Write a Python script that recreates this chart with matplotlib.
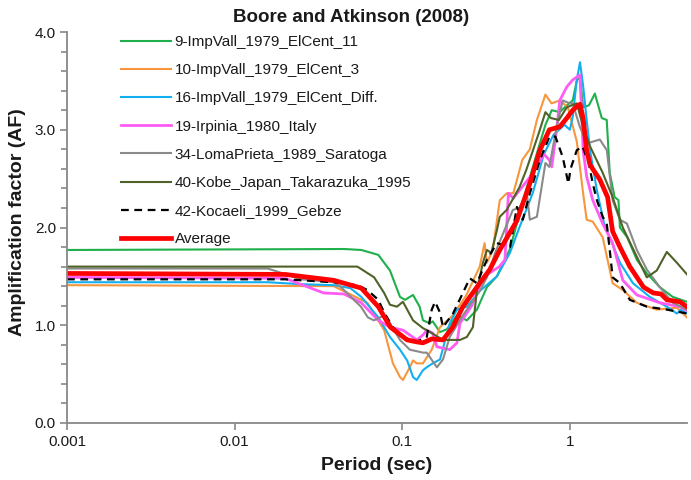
import matplotlib
matplotlib.use("Agg")
import matplotlib.pyplot as plt
from matplotlib.ticker import FixedLocator, MultipleLocator, FuncFormatter

plt.rcParams['font.family'] = ['Liberation Sans', 'DejaVu Sans']

# ---------------- data (period in s, amplification factor) ----------------
labels = ["9-ImpVall_1979_ElCent_11", "10-ImpVall_1979_ElCent_3",
          "16-ImpVall_1979_ElCent_Diff.", "19-Irpinia_1980_Italy",
          "34-LomaPrieta_1989_Saratoga", "40-Kobe_Japan_Takarazuka_1995",
          "42-Kocaeli_1999_Gebze", "Average"]

p_green = [0.001, 0.045, 0.057, 0.072, 0.0845, 0.097, 0.104, 0.116, 0.127, 0.133, 0.146, 0.152,
           0.168, 0.185, 0.212, 0.243, 0.279, 0.32, 0.367, 0.439, 0.554, 0.662, 0.715, 0.78,
           0.87, 0.96, 1.04, 1.1, 1.15, 1.2, 1.3, 1.41, 1.55, 1.66, 1.73, 1.85, 1.95, 1.99,
           2.2, 2.51, 2.88, 3.44, 4.11, 5.0]
af_green = [1.77, 1.78, 1.77, 1.72, 1.56, 1.29, 1.26, 1.31, 1.19, 1.05, 1.02, 1.04,
            0.93, 0.96, 1.10, 1.05, 1.16, 1.39, 1.50, 1.78, 2.41, 2.86, 3.05, 3.20,
            3.18, 3.25, 3.30, 3.50, 3.55, 3.23, 3.25, 3.37, 3.12, 3.10, 2.56, 2.31, 2.28, 2.00,
            1.90, 1.67, 1.53, 1.39, 1.29, 1.24]

p_orange = [0.001, 0.039, 0.062, 0.078, 0.088, 0.097, 0.101, 0.111, 0.116, 0.122, 0.133, 0.15,
            0.168, 0.2, 0.24, 0.29, 0.31, 0.32, 0.347, 0.382, 0.42, 0.46, 0.52, 0.577, 0.636,
            0.715, 0.777, 0.871, 0.973, 1.1, 1.2, 1.26, 1.37, 1.57, 1.8, 2.07, 2.51, 3.3, 4.35, 5.0]
af_orange = [1.41, 1.40, 1.23, 0.95, 0.61, 0.47, 0.44, 0.57, 0.64, 0.61, 0.61, 0.75,
             0.98, 1.10, 1.30, 1.60, 1.84, 1.64, 1.77, 2.28, 2.35, 2.35, 2.69, 2.80, 3.10,
             3.36, 3.27, 3.30, 3.23, 2.88, 2.35, 2.08, 2.06, 1.90, 1.43, 1.36, 1.23, 1.16, 1.18, 1.08]

p_blue = [0.001, 0.0158, 0.0249, 0.039, 0.049, 0.057, 0.072, 0.0845, 0.097, 0.107, 0.116, 0.122,
          0.133, 0.14, 0.152, 0.168, 0.192, 0.212, 0.243, 0.29, 0.367, 0.439, 0.5, 0.6, 0.7,
          0.8, 0.93, 1.0, 1.04, 1.1, 1.15, 1.2, 1.26, 1.32, 1.45, 1.6, 1.73, 1.99, 2.38, 3.0,
          3.79, 4.35, 4.6, 5.0]
af_blue = [1.44, 1.44, 1.42, 1.41, 1.38, 1.29, 1.08, 0.88, 0.75, 0.64, 0.47, 0.44,
           0.54, 0.57, 0.61, 0.65, 1.02, 1.16, 1.19, 1.35, 1.50, 1.74, 2.00, 2.35, 2.75,
           2.95, 3.05, 3.00, 3.13, 3.51, 3.69, 3.45, 3.10, 2.79, 2.38, 2.04, 1.90, 1.64, 1.43, 1.29,
           1.19, 1.12, 1.16, 1.12]

p_magenta = [0.001, 0.02, 0.034, 0.0449, 0.057, 0.072, 0.0845, 0.101, 0.122, 0.133, 0.14, 0.152,
             0.161, 0.192, 0.212, 0.221, 0.26, 0.303, 0.38, 0.41, 0.43, 0.46, 0.5, 0.6, 0.7,
             0.755, 0.78, 0.834, 0.871, 0.96, 1.04, 1.147, 1.18, 1.2, 1.26, 1.37, 1.57, 1.8,
             2.07, 2.51, 3.44, 4.53, 5.0]
af_magenta = [1.49, 1.48, 1.33, 1.32, 1.23, 1.05, 0.98, 0.95, 0.85, 0.90, 0.95, 0.92,
              0.78, 0.75, 0.82, 1.02, 1.20, 1.49, 1.60, 1.67, 2.35, 2.30, 2.38, 2.55, 2.75,
              2.69, 2.62, 3.00, 3.30, 3.44, 3.51, 3.56, 3.13, 2.79, 2.52, 2.28, 2.04, 1.84,
              1.46, 1.31, 1.23, 1.19, 1.15]

p_gray = [0.001, 0.0158, 0.0249, 0.0391, 0.0431, 0.0494, 0.0567, 0.0624, 0.0678, 0.0778, 0.0845,
          0.0969, 0.111, 0.133, 0.14, 0.161, 0.175, 0.192, 0.23, 0.29, 0.32, 0.36, 0.457, 0.5,
          0.554, 0.577, 0.636, 0.715, 0.755, 0.834, 0.907, 1.0, 1.04, 1.147, 1.263, 1.51, 1.662,
          1.8, 1.99, 2.19, 2.51, 2.88, 3.44, 4.11, 5.0]
af_gray = [1.58, 1.58, 1.47, 1.44, 1.39, 1.29, 1.19, 1.08, 1.05, 1.10, 1.02,
           0.85, 0.75, 0.72, 0.72, 0.57, 0.65, 0.88, 1.10, 1.35, 1.49, 1.75, 2.18, 2.20,
           2.35, 2.08, 2.11, 2.66, 2.62, 3.03, 3.30, 3.27, 3.27, 3.03, 2.86, 2.90, 2.79,
           2.28, 2.08, 2.04, 1.77, 1.57, 1.39, 1.23, 1.16]

p_olive = [0.001, 0.054, 0.068, 0.078, 0.0845, 0.093, 0.101, 0.116, 0.133, 0.14, 0.175, 0.221,
           0.243, 0.264, 0.279, 0.303, 0.32, 0.34, 0.367, 0.382, 0.42, 0.5, 0.55, 0.654, 0.715,
           0.77, 0.86, 0.96, 1.1, 1.2, 1.32, 1.57, 1.8, 2.07, 2.51, 2.88, 3.3, 3.79, 4.35, 5.0]
af_olive = [1.60, 1.60, 1.49, 1.33, 1.21, 1.19, 1.24, 1.05, 0.97, 0.95, 0.85, 0.85,
            0.88, 0.98, 1.36, 1.64, 1.77, 1.74, 1.97, 2.11, 2.18, 2.41, 2.59, 2.97, 3.18,
            3.12, 3.10, 3.23, 3.27, 3.03, 2.83, 2.56, 2.31, 2.00, 1.70, 1.49, 1.56, 1.75, 1.64, 1.52]

p_black = [0.001, 0.02, 0.039, 0.054, 0.062, 0.072, 0.078, 0.088, 0.101, 0.122, 0.14, 0.15,
           0.157, 0.168, 0.175, 0.201, 0.23, 0.253, 0.279, 0.32, 0.367, 0.44, 0.483, 0.524,
           0.577, 0.662, 0.755, 0.82, 0.907, 0.98, 1.01, 1.1, 1.19, 1.3, 1.37, 1.45, 1.57,
           1.66, 1.73, 1.8, 1.99, 2.28, 2.88, 3.79, 5.0]
af_black = [1.47, 1.47, 1.44, 1.41, 1.36, 1.26, 1.13, 0.98, 0.88, 0.83, 0.88, 1.16,
            1.24, 1.13, 0.98, 1.12, 1.33, 1.48, 1.43, 1.67, 1.84, 1.80, 2.21, 2.08,
            2.35, 2.69, 2.93, 2.93, 2.72, 2.45, 2.60, 2.79, 2.83, 2.65, 2.45, 2.28, 2.11,
            2.04, 1.77, 1.49, 1.43, 1.26, 1.19, 1.16, 1.12]

p_avg = [0.001, 0.02, 0.039, 0.057, 0.072, 0.085, 0.107, 0.122, 0.133, 0.15, 0.175, 0.2,
         0.23, 0.29, 0.333, 0.382, 0.483, 0.577, 0.662, 0.755, 0.87, 0.96, 1.04, 1.12, 1.15,
         1.2, 1.26, 1.32, 1.51, 1.68, 1.8, 1.99, 2.28, 2.75, 3.15, 3.5, 3.79, 4.53, 5.0]
af_avg = [1.53, 1.52, 1.46, 1.38, 1.19, 0.98, 0.85, 0.83, 0.82, 0.86, 0.85, 0.98,
          1.19, 1.43, 1.57, 1.77, 2.07, 2.45, 2.79, 3.00, 3.03, 3.12, 3.20, 3.25, 3.26,
          3.12, 2.79, 2.64, 2.49, 2.31, 1.96, 1.80, 1.60, 1.39, 1.33, 1.32, 1.26, 1.24, 1.19]

x_ticks = [0.001, 0.01, 0.1, 1]
x_tick_labels = ["0.001", "0.01", "0.1", "1"]

# ---------------- plot ----------------
fig = plt.figure(figsize=(6.91, 4.80), dpi=100)
ax = fig.add_axes([67/691, 1-423/480, (687-67)/691, (423-32)/480])

series = [
    (p_green, af_green, dict(color="#1fb04b", lw=1.5)),
    (p_orange, af_orange, dict(color="#f7963c", lw=1.5)),
    (p_blue, af_blue, dict(color="#12aff0", lw=1.5)),
    (p_magenta, af_magenta, dict(color="#ff5cf5", lw=2.0)),
    (p_gray, af_gray, dict(color="#8a8a8a", lw=1.5)),
    (p_olive, af_olive, dict(color="#4f6228", lw=1.5)),
    (p_black, af_black, dict(color="black", lw=1.6, ls=(0, (3.5, 2.5)))),
    (p_avg, af_avg, dict(color="#ff0000", lw=3.4)),
]
for (p, a, st), lab in zip(series, labels):
    ax.plot(p, a, label=lab, solid_joinstyle='round', **st)

ax.set_xscale('log')
ax.set_xlim(0.001, 5)
ax.set_ylim(0, 4)
ax.xaxis.set_major_locator(FixedLocator(x_ticks))
ax.xaxis.set_minor_locator(FixedLocator([]))
ax.set_xticks(x_ticks, x_tick_labels)
ax.yaxis.set_major_locator(MultipleLocator(1.0))
ax.yaxis.set_minor_locator(MultipleLocator(0.2))
ax.yaxis.set_major_formatter(FuncFormatter(lambda v, _: f"{v:.1f}"))

for s in ['top', 'right']:
    ax.spines[s].set_visible(False)
for s in ['left', 'bottom']:
    ax.spines[s].set_color('#888888')
    ax.spines[s].set_linewidth(1.3)
ax.tick_params(axis='both', which='both', direction='out', color='#888888', width=1.2,
               labelsize=11, labelcolor='#1a1a1a')
ax.tick_params(axis='y', which='major', length=5, pad=3)
ax.tick_params(axis='y', which='minor', length=4)
ax.tick_params(axis='x', which='major', length=5, pad=4)

fig.text(351/691, 1-17/480, "Boore and Atkinson (2008)", ha='center', va='center',
         fontsize=13.5, fontweight='bold', color='#1a1a1a')
fig.text(18/691, 1-222/480, "Amplification factor (AF)", ha='center', va='center',
         rotation=90, fontsize=14, fontweight='bold', color='#1a1a1a')
fig.text(377/691, 1-466/480, "Period (sec)", ha='center', va='center',
         fontsize=14, fontweight='bold', color='#1a1a1a')

leg = ax.legend(loc='upper left', bbox_to_anchor=(121/691, 1-35/480),
                bbox_transform=fig.transFigure, frameon=False, fontsize=11,
                handlelength=3.25, handletextpad=0.26, labelspacing=0.93, borderpad=0,
                borderaxespad=0)
for t in leg.get_texts():
    t.set_color('#1a1a1a')

fig.savefig("out.png", dpi=100)
